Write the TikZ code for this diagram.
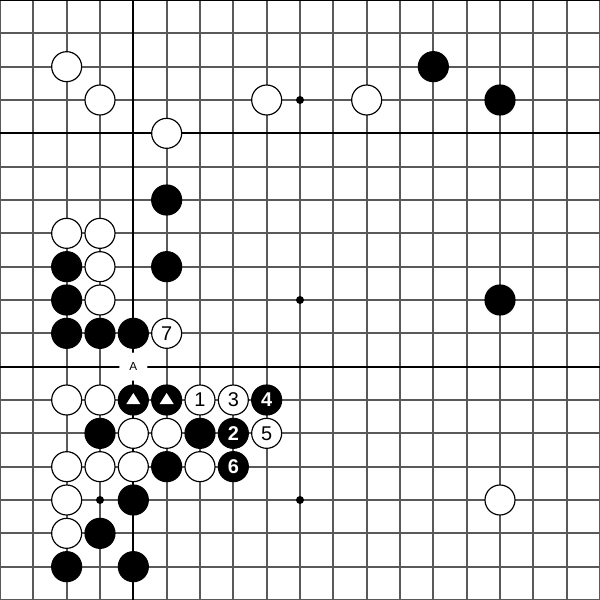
\documentclass[tikz,border=0pt]{standalone}
\usepackage{fontspec}
\setmainfont{Liberation Sans}
\begin{document}
\begin{tikzpicture}[x=0.5cm,y=-0.5cm,
  gridline/.style={draw=black!65,line width=0.85pt},
  darkline/.style={draw=black,line width=0.9pt},
  wstone/.style={circle,draw=black,line width=0.5pt,fill=white,minimum size=0.45cm,inner sep=0pt,font=\fontsize{8.5}{9}\selectfont},
  bstone/.style={circle,draw=black,line width=0.5pt,fill=black,minimum size=0.45cm,inner sep=0pt,text=white,font=\fontsize{8.5}{9}\selectfont\bfseries},
  hoshi/.style={circle,fill=black,minimum size=0.12cm,inner sep=0pt},
  lbl/.style={circle,fill=white,minimum size=0.42cm,inner sep=0pt,font=\fontsize{5}{6}\selectfont}]
\useasboundingbox (0,0) rectangle (18,18);
\fill[white] (0,0) rectangle (18,18);
% grid
\foreach \i in {0,...,18} {
  \draw[gridline] (\i,0) -- (\i,18);
  \draw[gridline] (0,\i) -- (18,\i);
}
\draw[darkline] (4,0) -- (4,18);
\draw[darkline] (0,4) -- (18,4);
\draw[darkline] (0,11) -- (18,11);
\draw[darkline] (0,0) -- (18,0);
% star points
\foreach \p [count=\k] in {(9,3),(9,9),(9,15),(3,15)}
  \node[hoshi] (h\k) at \p {};
% label A
\node[lbl] (lA) at (4,11) {A};
% white stones
\foreach \p [count=\k] in {(2,2),(3,3),(8,3),(11,3),(5,4),(2,7),(3,7),(3,8),(3,9),
  (2,12),(3,12),(4,13),(5,13),(2,14),(3,14),(4,14),(6,14),(2,15),(15,15),(2,16)}
  \node[wstone] (w\k) at \p {};
% black stones
\foreach \p [count=\k] in {(13,2),(15,3),(5,6),(5,8),(15,9),(2,8),(2,9),(2,10),(3,10),(4,10),
  (3,13),(6,13),(5,14),(4,15),(3,16),(2,17),(4,17)}
  \node[bstone] (b\k) at \p {};
% triangle-marked black stones
\node[bstone] (t1) at (4,12) {};
\node[bstone] (t2) at (5,12) {};
\foreach \t in {t1,t2}
  \fill[white] ([shift={(0,-0.21)}]\t.center) -- ([shift={(-0.21,0.12)}]\t.center) -- ([shift={(0.21,0.12)}]\t.center) -- cycle;
% numbered stones
\node[wstone] (m1) at (6,12) {1};
\node[bstone] (m2) at (7,13) {2};
\node[wstone] (m3) at (7,12) {3};
\node[bstone] (m4) at (8,12) {4};
\node[wstone] (m5) at (8,13) {5};
\node[bstone] (m6) at (7,14) {6};
\node[wstone] (m7) at (5,10) {7};
\end{tikzpicture}
\end{document}
